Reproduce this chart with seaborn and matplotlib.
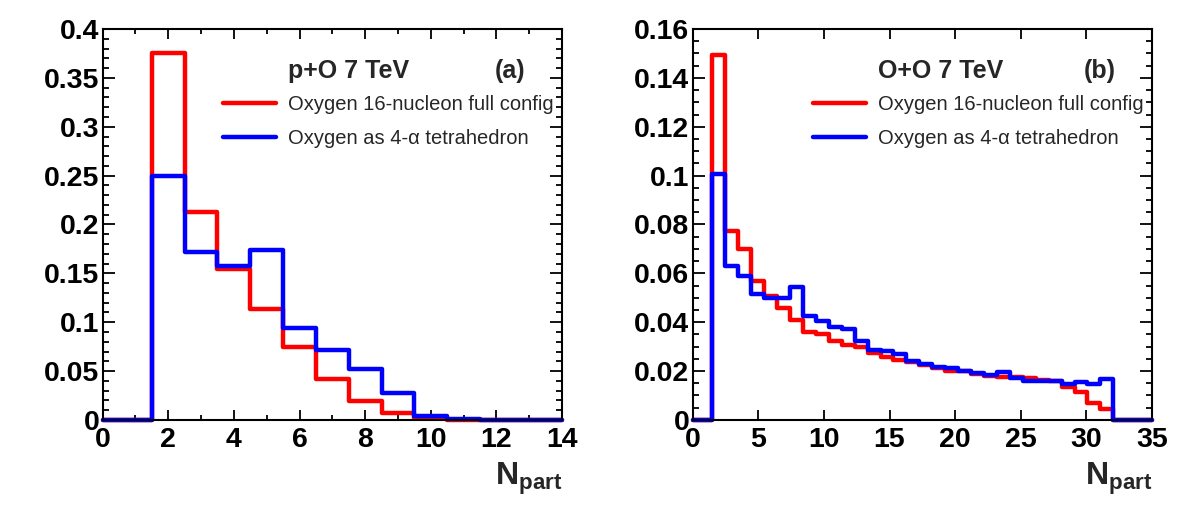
import numpy as np
import pandas as pd
import seaborn as sns
import matplotlib.pyplot as plt
from matplotlib.lines import Line2D
from matplotlib.ticker import MultipleLocator, FormatStrFormatter

# p+O 7 TeV, fraction of events per Npart (Npart = 2..14)
po_npart = np.arange(2, 15)
po_full = [0.375, 0.213, 0.154, 0.113, 0.075, 0.042, 0.019, 0.0074, 0.0016, 0.0004, 0, 0, 0]
po_alpha = [0.250, 0.172, 0.157, 0.174, 0.094, 0.0715, 0.052, 0.028, 0.0044, 0.001, 0, 0, 0]

# O+O 7 TeV, 31 bins from Npart ~1.5 to ~32
oo_full = [0.1494, 0.0774, 0.0700, 0.0570, 0.0509, 0.0460, 0.0410, 0.0359, 0.0352, 0.0324,
           0.0308, 0.0297, 0.0273, 0.0259, 0.0245, 0.0236, 0.0226, 0.0211, 0.0202, 0.0199,
           0.0188, 0.0181, 0.0175, 0.0175, 0.0172, 0.0164, 0.0161, 0.0134, 0.0115, 0.0070,
           0.0045]
oo_alpha = [0.1006, 0.0631, 0.0590, 0.0515, 0.0499, 0.0499, 0.0543, 0.0427, 0.0406, 0.0379,
            0.0372, 0.0324, 0.0286, 0.0281, 0.0270, 0.0243, 0.0229, 0.0215, 0.0213, 0.0202,
            0.0192, 0.0185, 0.0195, 0.0172, 0.0161, 0.0158, 0.0161, 0.0147, 0.0154, 0.0146,
            0.0166]

labels = ["Oxygen 16-nucleon full config", "Oxygen as 4-\u03b1 tetrahedron"]
colors = ["#ff0000", "#0000ff"]

# bin edges (zero bin from the axis start up to the first filled bin)
po_edges = [0.0] + list(np.arange(1.5, 14, 1.0)) + [14.0]
oo_inner = np.linspace(1.5, 32.05, 32)
oo_edges = [0.0] + list(oo_inner) + [35.0]
oo_centres = (oo_inner[:-1] + oo_inner[1:]) / 2

sns.set_theme(style="ticks")
plt.rcParams['font.family'] = ['Liberation Sans', 'DejaVu Sans']
plt.rcParams['mathtext.fontset'] = 'custom'
plt.rcParams['mathtext.bf'] = 'Liberation Sans:bold'
plt.rcParams['mathtext.rm'] = 'Liberation Sans'

fig = plt.figure(figsize=(11.82, 5.05), dpi=100)
ax1 = fig.add_axes([0.0868, 0.1685, 0.3887, 0.774])
ax2 = fig.add_axes([0.586, 0.1685, 0.3887, 0.774])

panels = [
    (ax1, po_npart, po_full, po_alpha, po_edges, (0, 14), (0, 0.4), 2, 1, 0.05, 0.01, "p+O 7 TeV", "(a)"),
    (ax2, oo_centres, oo_full, oo_alpha, oo_edges, (0, 35), (0, 0.16), 5, None, 0.02, 0.005, "O+O 7 TeV", "(b)"),
]

for ax, x, full, alpha, edges, xlim, ylim, xmaj, xmin, ymaj, ymin, title, tag in panels:
    for vals, col in zip([full, alpha], colors):
        df = pd.DataFrame({"npart": x, "frac": vals})
        sns.histplot(data=df, x="npart", weights="frac", bins=edges, element="step", fill=False,
                     color=col, linewidth=3.2, clip_on=False, ax=ax)
    ax.set_xlim(*xlim)
    ax.set_ylim(*ylim)
    ax.set_ylabel("")
    ax.set_xlabel(r"$\mathbf{N_{part}}$", fontsize=23, loc="right", labelpad=6)

    ax.xaxis.set_major_locator(MultipleLocator(xmaj))
    if xmin:
        ax.xaxis.set_minor_locator(MultipleLocator(xmin))
    ax.yaxis.set_major_locator(MultipleLocator(ymaj))
    ax.yaxis.set_minor_locator(MultipleLocator(ymin))
    ax.yaxis.set_major_formatter(FormatStrFormatter("%g"))
    ax.xaxis.set_major_formatter(FormatStrFormatter("%g"))

    ax.tick_params(which="both", direction="in", top=True, right=True, width=1.3, colors="black")
    ax.tick_params(axis="x", which="major", length=7, pad=5)
    ax.tick_params(axis="x", which="minor", length=3.6)
    ax.tick_params(axis="y", which="major", length=8.5, pad=2.5)
    ax.tick_params(axis="y", which="minor", length=4.3)
    for lab in ax.get_xticklabels() + ax.get_yticklabels():
        lab.set_fontsize(20.5)
        lab.set_fontweight("bold")
    for sp in ax.spines.values():
        sp.set_linewidth(1.5)
        sp.set_color("black")

    ax.text(0.4036, 0.892, title, transform=ax.transAxes, fontsize=18,
            fontweight="bold", ha="left", va="center")
    ax.text(0.887, 0.892, tag, transform=ax.transAxes, fontsize=18,
            fontweight="bold", ha="center", va="center")

    handles = [Line2D([], [], color=c, linewidth=3.2) for c in colors]
    ax.legend(handles, labels, loc="upper left", bbox_to_anchor=(0.2614, 0.831),
              frameon=False, fontsize=14.5, borderpad=0, borderaxespad=0,
              handlelength=2.64, handletextpad=0.6, labelspacing=0.72)

plt.savefig("out.png", dpi=100)
